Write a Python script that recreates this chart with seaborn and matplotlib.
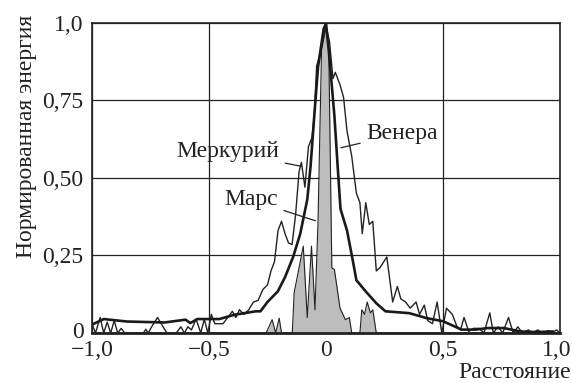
import matplotlib
matplotlib.use("Agg")
import matplotlib.pyplot as plt
import matplotlib.transforms as mtransforms
import seaborn as sns
import pandas as pd

sns.set_theme(style="white")
plt.rcParams['font.family'] = ['Liberation Serif', 'DejaVu Serif']
plt.rcParams['axes.unicode_minus'] = True

# Меркурий (тонкая шумная линия)
merc_x = [-1.00, -0.985, -0.965, -0.95, -0.935, -0.92, -0.905, -0.89, -0.875, -0.86,
          -0.78, -0.77, -0.76, -0.745, -0.72, -0.70, -0.68, -0.64, -0.62, -0.605,
          -0.59, -0.575, -0.555, -0.535, -0.52, -0.505, -0.49, -0.475, -0.44, -0.42,
          -0.40, -0.385, -0.37, -0.35, -0.33, -0.31, -0.29, -0.27, -0.25, -0.235,
          -0.22, -0.205, -0.19, -0.175, -0.16, -0.145, -0.13, -0.115, -0.105, -0.09,
          -0.075, -0.06, -0.05, -0.04, -0.025, 0.0, 0.015, 0.03, 0.04,
          0.06, 0.075, 0.09, 0.11, 0.13, 0.145, 0.155, 0.17, 0.185, 0.20,
          0.215, 0.23, 0.26, 0.285, 0.305, 0.32, 0.34, 0.36, 0.385, 0.40,
          0.42, 0.435, 0.455, 0.475, 0.495, 0.515, 0.54, 0.56, 0.575, 0.59,
          0.61, 0.63, 0.655, 0.675, 0.70, 0.715, 0.735, 0.755, 0.78, 0.80,
          0.82, 0.84, 0.865, 0.88, 0.905, 0.925, 0.95, 0.965, 0.985, 1.0]
merc_y = [0.03, 0.0, 0.05, 0.0, 0.035, 0.0, 0.04, 0.0, 0.015, 0.0,
          0.0, 0.012, 0.0, 0.02, 0.05, 0.025, 0.0, 0.0, 0.02, 0.0,
          0.02, 0.01, 0.045, 0.0, 0.045, 0.0, 0.06, 0.03, 0.03, 0.05,
          0.07, 0.05, 0.075, 0.06, 0.075, 0.10, 0.105, 0.14, 0.155, 0.20,
          0.23, 0.33, 0.36, 0.32, 0.29, 0.285, 0.38, 0.52, 0.55, 0.47,
          0.60, 0.63, 0.70, 0.86, 0.90, 0.99, 0.94, 0.82, 0.84,
          0.80, 0.76, 0.65, 0.57, 0.45, 0.42, 0.32, 0.42, 0.35, 0.36,
          0.20, 0.21, 0.245, 0.10, 0.15, 0.11, 0.10, 0.08, 0.10, 0.06,
          0.09, 0.04, 0.03, 0.10, 0.0, 0.08, 0.06, 0.02, 0.01, 0.05,
          0.005, 0.015, 0.015, 0.0, 0.065, 0.0, 0.02, 0.0, 0.05, 0.0,
          0.02, 0.0, 0.01, 0.0, 0.01, 0.0, 0.008, 0.0, 0.01, 0.0]

# Венера (толстая гладкая линия)
ven_x = [-1.0, -0.95, -0.85, -0.69, -0.6, -0.58, -0.55, -0.456, -0.39, -0.30,
         -0.28, -0.25, -0.206, -0.175, -0.14, -0.11, -0.08, -0.066, -0.05, -0.034,
         -0.01, 0.0, 0.012, 0.036, 0.05, 0.062, 0.09, 0.114, 0.13, 0.17,
         0.215, 0.254, 0.356, 0.43, 0.50, 0.58, 0.64, 0.69, 0.76, 0.83,
         0.90, 0.97]
ven_y = [0.027, 0.045, 0.037, 0.034, 0.043, 0.032, 0.045, 0.045, 0.059, 0.07,
         0.07, 0.10, 0.134, 0.18, 0.246, 0.32, 0.43, 0.536, 0.70, 0.857,
         0.98, 0.997, 0.91, 0.70, 0.536, 0.40, 0.33, 0.236, 0.17, 0.134,
         0.096, 0.07, 0.064, 0.048, 0.038, 0.011, 0.011, 0.016, 0.016, 0.005,
         0.003, 0.005]

# Марс (серая заливка)
mars_x = [-1.0, -0.256, -0.23, -0.215, -0.2, -0.19, -0.144, -0.136, -0.097, -0.08,
          -0.062, -0.047, -0.034, -0.019, 0.0, 0.012, 0.025, 0.036, 0.06, 0.083,
          0.1, 0.11, 0.145, 0.153, 0.165, 0.176, 0.19, 0.2, 0.215, 1.0]
mars_y = [0.0, 0.0, 0.043, 0.0, 0.048, 0.0, 0.0, 0.13, 0.28, 0.05,
          0.28, 0.075, 0.36, 0.91, 0.985, 0.91, 0.21, 0.205, 0.08, 0.043,
          0.05, 0.0, 0.0, 0.075, 0.06, 0.1, 0.065, 0.075, 0.0, 0.0]

x_ticks = [-1.0, -0.5, 0.0, 0.5, 1.0]
x_labels = ["\u22121,0", "\u22120,5", "0", "0,5", "1,0"]
y_ticks = [0.0, 0.25, 0.5, 0.75, 1.0]
y_labels = ["0", "0,25", "0,50", "0,75", "1,0"]

fs = 17
fig = plt.figure(figsize=(5.72, 3.83), dpi=100)
ax = fig.add_axes([0.1608, 0.1305, 0.979 - 0.1608, 0.9407 - 0.1305])

mars = pd.DataFrame({"x": mars_x, "y": mars_y})
ax.fill_between(mars["x"], 0, mars["y"], color="#bdbdbd", linewidth=0, zorder=2)
sns.lineplot(data=mars, x="x", y="y", ax=ax, color="#222222", linewidth=0.8,
             sort=False, estimator=None, zorder=3)
sns.lineplot(x=merc_x, y=merc_y, ax=ax, color="#222222", linewidth=1.0,
             sort=False, estimator=None, zorder=4)
sns.lineplot(x=ven_x, y=ven_y, ax=ax, color="#1a1a1a", linewidth=1.9,
             sort=False, estimator=None, zorder=5)

ax.set_xlim(-1, 1)
ax.set_ylim(0, 1)
ax.set_xticks(x_ticks)
ax.set_xticklabels(x_labels)
ax.set_yticks(y_ticks)
ax.set_yticklabels(y_labels)
ax.tick_params(length=0, labelsize=fs, colors="#222222")
ax.tick_params(axis="x", pad=5)
ax.tick_params(axis="y", pad=6)
ax.grid(True, color="#222222", linewidth=0.9)
ax.set_axisbelow(True)
for s in ax.spines.values():
    s.set_color("#222222")
    s.set_linewidth(1.2)
ax.spines["bottom"].set_linewidth(2.0)

# nudge edge labels so they stay inside the figure and don't touch
last = ax.get_xticklabels()[-1]
last.set_transform(last.get_transform() + mtransforms.ScaledTranslation(-3 / 100, 0, fig.dpi_scale_trans))
first_y = ax.get_yticklabels()[0]
first_y.set_transform(first_y.get_transform() + mtransforms.ScaledTranslation(0, 3 / 100, fig.dpi_scale_trans))

ax.set_xlabel("")
ax.set_ylabel("")
fig.text(0.046, 0.962, "Нормированная энергия", rotation=90, ha="center", va="top",
         fontsize=fs, color="#222222")
fig.text(0.998, 0.0, "Расстояние", ha="right", va="bottom", fontsize=fs, color="#222222")

txt = dict(fontsize=fs, color="#222222", zorder=6)
arr = dict(arrowstyle="-", color="#222222", lw=0.9)
ax.annotate("Меркурий", xy=(-0.097, 0.536), xytext=(-0.2, 0.584), ha="right", va="center",
            arrowprops=arr, **txt)
ax.annotate("Венера", xy=(0.052, 0.595), xytext=(0.172, 0.643), ha="left", va="center",
            arrowprops=arr, **txt)
ax.annotate("Марс", xy=(-0.034, 0.359), xytext=(-0.205, 0.429), ha="right", va="center",
            arrowprops=arr, **txt)

fig.savefig("out.png", dpi=100)
